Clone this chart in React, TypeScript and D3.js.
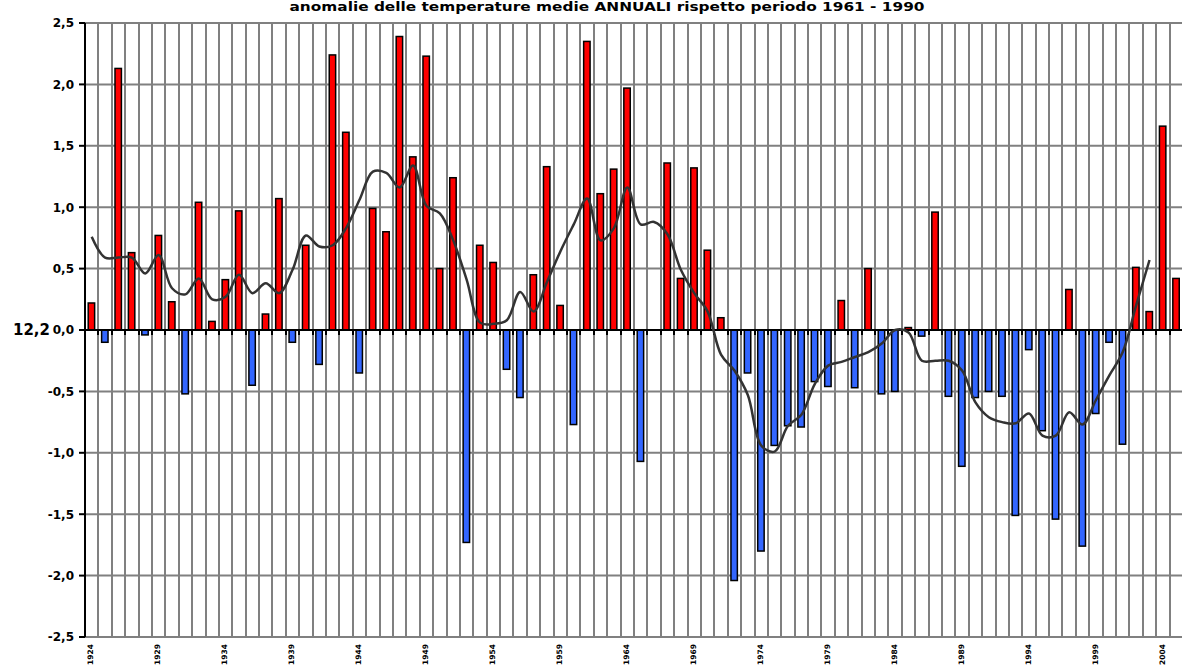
import React, { useEffect, useRef } from 'react';
import * as d3 from 'd3';

const width = 1182;
const height = 666;
const margin = { top: 23, right: -1, bottom: 29, left: 85 };

const title = 'anomalie delle temperature medie ANNUALI rispetto periodo 1961 - 1990';

const years = [
  1924, 1925, 1926, 1927, 1928, 1929, 1930, 1931, 1932, 1933,
  1934, 1935, 1936, 1937, 1938, 1939, 1940, 1941, 1942, 1943,
  1944, 1945, 1946, 1947, 1948, 1949, 1950, 1951, 1952, 1953,
  1954, 1955, 1956, 1957, 1958, 1959, 1960, 1961, 1962, 1963,
  1964, 1965, 1966, 1967, 1968, 1969, 1970, 1971, 1972, 1973,
  1974, 1975, 1976, 1977, 1978, 1979, 1980, 1981, 1982, 1983,
  1984, 1985, 1986, 1987, 1988, 1989, 1990, 1991, 1992, 1993,
  1994, 1995, 1996, 1997, 1998, 1999, 2000, 2001, 2002, 2003,
  2004, 2005,
];

// annual anomaly vs 1961-1990 mean (12,2)
const anomalies = [
  0.22, -0.10, 2.13, 0.63, -0.04, 0.77, 0.23, -0.52, 1.04, 0.07,
  0.41, 0.97, -0.45, 0.13, 1.07, -0.10, 0.69, -0.28, 2.24, 1.61,
  -0.35, 0.99, 0.80, 2.39, 1.41, 2.23, 0.50, 1.24, -1.73, 0.69,
  0.55, -0.32, -0.55, 0.45, 1.33, 0.20, -0.77, 2.35, 1.11, 1.31,
  1.97, -1.07, null, 1.36, 0.42, 1.32, 0.65, 0.10, -2.04, -0.35,
  -1.80, -0.94, -0.78, -0.79, -0.42, -0.46, 0.24, -0.47, 0.50, -0.52,
  -0.50, 0.02, -0.05, 0.96, -0.54, -1.11, -0.55, -0.50, -0.54, -1.51,
  -0.16, -0.82, -1.54, 0.33, -1.76, -0.68, -0.10, -0.93, 0.51, 0.15,
  1.66, 0.42,
];

// smoothed trend line
const trend = [
  0.76, 0.59, 0.59, 0.59, 0.46, 0.61, 0.34, 0.29, 0.42, 0.25,
  0.27, 0.45, 0.30, 0.38, 0.30, 0.49, 0.77, 0.68, 0.69, 0.83,
  1.06, 1.29, 1.28, 1.16, 1.34, 1.01, 0.95, 0.73, 0.41, 0.06,
  0.05, 0.08, 0.31, 0.15, 0.39, 0.64, 0.86, 1.07, 0.73, 0.83,
  1.16, 0.86, 0.88, 0.78, 0.49, 0.30, 0.15, -0.20, -0.33, -0.53,
  -0.94, -0.99, -0.78, -0.69, -0.44, -0.29, -0.26, -0.22, -0.18, -0.11,
  0.00, -0.02, -0.25, -0.25, -0.25, -0.33, -0.59, -0.71, -0.75, -0.76,
  -0.68, -0.86, -0.86, -0.67, -0.77, -0.57, -0.37, -0.18, 0.20, 0.57,
  null, null,
];

const yTicks = [-2.5, -2.0, -1.5, -1.0, -0.5, 0, 0.5, 1.0, 1.5, 2.0, 2.5];
const xLabels = [1924, 1929, 1934, 1939, 1944, 1949, 1954, 1959, 1964, 1969, 1974, 1979, 1984, 1989, 1994, 1999, 2004];
const baseLabel = '12,2';

const App = () => {
  const ref = useRef(null);

  useEffect(() => {
    const svg = d3.select(ref.current);
    svg.selectAll('*').remove();

    const x = d3.scaleBand()
      .domain(years.map(String))
      .range([margin.left, width - margin.right])
      .padding(0);

    const y = d3.scaleLinear()
      .domain([-2.5, 2.5])
      .range([height - margin.bottom, margin.top]);

    const bw = x.bandwidth();
    const fmt = (v) => d3.format('.1f')(v).replace('.', ',').replace('−', '-');

    // horizontal grid
    svg.append('g')
      .selectAll('line')
      .data(yTicks)
      .enter()
      .append('line')
      .attr('x1', margin.left)
      .attr('x2', width)
      .attr('y1', d => y(d))
      .attr('y2', d => y(d))
      .attr('stroke', '#808080')
      .attr('stroke-width', 2);

    // vertical grid at category boundaries
    svg.append('g')
      .selectAll('line')
      .data(years.slice(1))
      .enter()
      .append('line')
      .attr('x1', d => Math.round(x(String(d))))
      .attr('x2', d => Math.round(x(String(d))))
      .attr('y1', y(2.5))
      .attr('y2', y(-2.5))
      .attr('stroke', '#808080')
      .attr('stroke-width', 2);

    // bars
    const rows = years.map((yr, i) => ({ year: yr, value: anomalies[i] })).filter(d => d.value !== null);
    svg.append('g')
      .selectAll('rect')
      .data(rows)
      .enter()
      .append('rect')
      .attr('x', d => x(String(d.year)) + bw * 0.24)
      .attr('width', bw * 0.48)
      .attr('y', d => y(Math.max(0, d.value)))
      .attr('height', d => Math.abs(y(d.value) - y(0)))
      .attr('fill', d => d.value >= 0 ? '#ff0000' : '#3366ff')
      .attr('stroke', '#000')
      .attr('stroke-width', 1.5);

    // zero axis with tick marks
    svg.append('line')
      .attr('x1', margin.left)
      .attr('x2', width)
      .attr('y1', y(0))
      .attr('y2', y(0))
      .attr('stroke', '#000')
      .attr('stroke-width', 2);

    svg.append('g')
      .selectAll('line')
      .data(years.slice(1))
      .enter()
      .append('line')
      .attr('x1', d => Math.round(x(String(d))))
      .attr('x2', d => Math.round(x(String(d))))
      .attr('y1', y(0))
      .attr('y2', y(0) + 5)
      .attr('stroke', '#000')
      .attr('stroke-width', 2);

    // trend line
    const line = d3.line()
      .defined(d => d.v !== null)
      .x(d => x(String(d.year)) + bw / 2)
      .y(d => y(d.v))
      .curve(d3.curveCatmullRom);

    svg.append('path')
      .datum(years.map((yr, i) => ({ year: yr, v: trend[i] })))
      .attr('d', line)
      .attr('fill', 'none')
      .attr('stroke', '#333333')
      .attr('stroke-width', 2.5);

    // left axis
    svg.append('line')
      .attr('x1', margin.left)
      .attr('x2', margin.left)
      .attr('y1', y(2.5))
      .attr('y2', y(-2.5))
      .attr('stroke', '#000')
      .attr('stroke-width', 2);

    const yAxis = svg.append('g');
    yAxis.selectAll('line')
      .data(yTicks)
      .enter()
      .append('line')
      .attr('x1', margin.left - 6)
      .attr('x2', margin.left)
      .attr('y1', d => y(d))
      .attr('y2', d => y(d))
      .attr('stroke', '#000')
      .attr('stroke-width', 2);

    yAxis.selectAll('text')
      .data(yTicks)
      .enter()
      .append('text')
      .attr('x', margin.left - 11)
      .attr('y', d => y(d))
      .attr('dy', '0.36em')
      .attr('text-anchor', 'end')
      .style('font-family', '"DejaVu Sans", sans-serif')
      .style('font-weight', 'bold')
      .style('font-size', '12px')
      .text(d => fmt(d));

    svg.append('text')
      .attr('x', 50)
      .attr('y', y(0))
      .attr('dy', '0.36em')
      .attr('text-anchor', 'end')
      .style('font-family', '"DejaVu Sans", sans-serif')
      .style('font-weight', 'bold')
      .style('font-size', '15px')
      .text(baseLabel);

    // year labels, rotated
    svg.append('g')
      .selectAll('text')
      .data(xLabels)
      .enter()
      .append('text')
      .attr('transform', d => `translate(${x(String(d)) + bw / 2 - 1},665) rotate(-90)`)
      .attr('dy', '0.35em')
      .attr('text-anchor', 'start')
      .style('font-family', '"DejaVu Sans", sans-serif')
      .style('font-weight', 'bold')
      .style('font-size', '7.5px')
      .text(d => d);

    // title at the very top
    svg.append('text')
      .attr('x', 607)
      .attr('y', 11)
      .attr('text-anchor', 'middle')
      .attr('textLength', 635)
      .attr('lengthAdjust', 'spacingAndGlyphs')
      .style('font-family', '"DejaVu Sans", sans-serif')
      .style('font-weight', 'bold')
      .style('font-size', '12px')
      .text(title);
  }, []);

  return (
    <svg
      ref={ref}
      width={width}
      height={height}
      style={{ position: 'absolute', left: 0, top: 0, background: '#fff' }}
    />
  );
};

export default App;
